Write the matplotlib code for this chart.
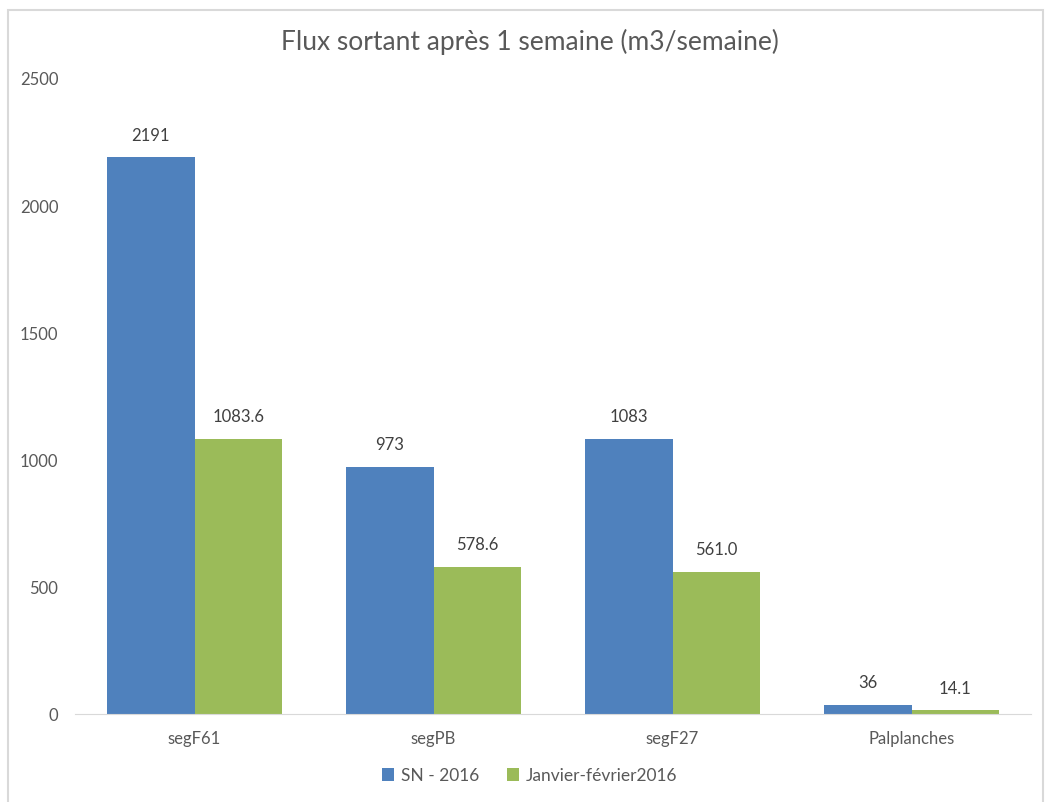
import matplotlib
matplotlib.use("Agg")
import matplotlib.pyplot as plt
import matplotlib.patches as patches
import numpy as np

categories = ["segF61", "segPB", "segF27", "Palplanches"]
sn_2016 = [2191, 973, 1083, 36]
janv_fev_2016 = [1083.6, 578.6, 561.0, 14.1]
series_names = ["SN - 2016", "Janvier-février2016"]
yticks = [0, 500, 1000, 1500, 2000, 2500]

blue = "#4F81BD"
green = "#9BBB59"
txt = "#595959"

plt.rcParams['font.family'] = ['Lato', 'DejaVu Sans']

fig = plt.figure(figsize=(10.45, 8.02), dpi=100)
ax = fig.add_axes([0.0718, 0.1097, 0.9148, 0.7918])

x = np.arange(len(categories))
w = 0.365
b1 = ax.bar(x - w/2, sn_2016, w, color=blue, label=series_names[0])
b2 = ax.bar(x + w/2, janv_fev_2016, w, color=green, label=series_names[1])

for rect, v in zip(b1, sn_2016):
    ax.annotate(f"{v:d}", (rect.get_x() + rect.get_width()/2, v), xytext=(0, 10),
                textcoords="offset points", ha="center", va="bottom", fontsize=12, color="#404040")
for rect, v in zip(b2, janv_fev_2016):
    ax.annotate(f"{v:.1f}", (rect.get_x() + rect.get_width()/2, v), xytext=(0, 10),
                textcoords="offset points", ha="center", va="bottom", fontsize=12, color="#404040")

ax.set_xlim(-0.5, len(categories) - 0.5)
ax.set_ylim(0, 2500)
ax.set_yticks(yticks)
ax.set_xticks(x)
ax.set_xticklabels(categories)
ax.tick_params(axis="both", length=0, labelsize=12, labelcolor=txt)
ax.tick_params(axis="y", pad=12)
ax.tick_params(axis="x", pad=12)
for s in ["top", "right", "left"]:
    ax.spines[s].set_visible(False)
ax.spines["bottom"].set_color("#D9D9D9")

fig.text(0.507, 0.948, "Flux sortant après 1 semaine (m3/semaine)", ha="center", va="center",
         fontsize=19, color=txt, fontweight="normal")

fig.legend(loc="center", bbox_to_anchor=(0.507, 0.033), ncol=2, frameon=False, fontsize=12.5,
           handlelength=0.7, handleheight=0.7, handletextpad=0.4, columnspacing=1.6,
           labelcolor=txt)

fig.patches.append(patches.Rectangle((0.008, -0.02), 0.99, 1.0075, transform=fig.transFigure,
                                     fill=False, edgecolor="#D9D9D9", linewidth=1.5))

fig.savefig("out.png", dpi=100)
